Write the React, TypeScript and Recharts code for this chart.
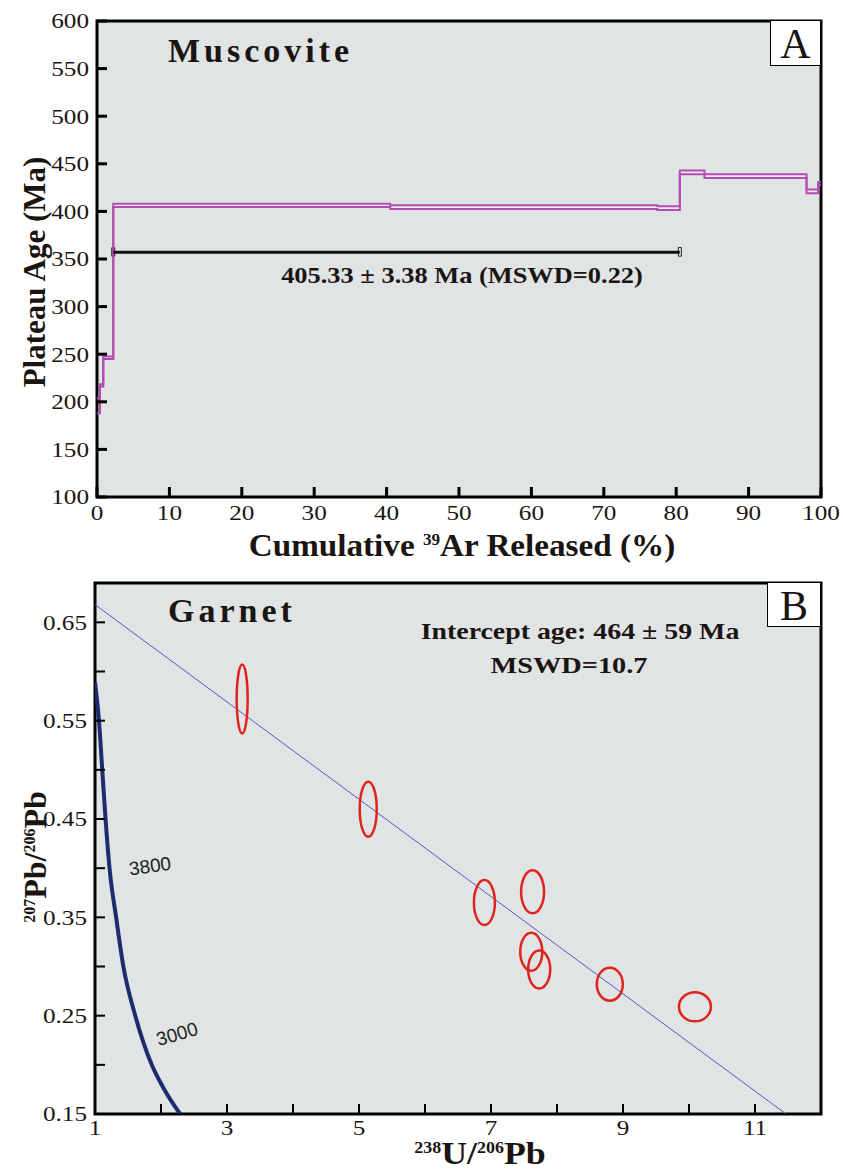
import React from "react";
import {
  ComposedChart,
  XAxis,
  YAxis,
  Line,
  Scatter,
  ReferenceArea,
  CartesianGrid,
} from "recharts";

// Panel A – muscovite Ar-Ar step spectrum
const stepStart = [0, 0.41, 0.87, 2.25, 40.5, 77.4, 80.5, 83.9, 98.0, 99.6];
const stepEnd = [0.41, 0.87, 2.25, 40.5, 77.4, 80.5, 83.9, 98.0, 99.6, 100];
const ageLow = [188, 216, 245, 404.5, 402.5, 401.5, 439, 435, 419, 427.5];
const ageHigh = [204, 218.5, 247.5, 408, 406.5, 405.5, 443, 439, 423, 431];
const plateauX = [2.25, 80.5];
const plateauY = [357, 357];
const xTicksA = [0, 10, 20, 30, 40, 50, 60, 70, 80, 90, 100];
const yTicksA = [100, 150, 200, 250, 300, 350, 400, 450, 500, 550, 600];

// Panel B – garnet Tera-Wasserburg
const ellX = [3.23, 5.14, 6.9, 7.63, 7.61, 7.73, 8.8, 10.09];
const ellY = [0.572, 0.46, 0.365, 0.376, 0.315, 0.297, 0.282, 0.259];
const ellErrX = [0.083, 0.129, 0.159, 0.174, 0.167, 0.167, 0.197, 0.242];
const ellErrY = [0.035, 0.028, 0.0229, 0.0219, 0.0193, 0.0193, 0.0168, 0.0148];
const regX = [1, 11.47];
const regY = [0.668, 0.15];
const concX = [1.0, 1.06, 1.11, 1.16, 1.22, 1.32, 1.43, 1.61, 1.86, 2.05, 2.29];
const concY = [0.589, 0.55, 0.5, 0.45, 0.4, 0.35, 0.3, 0.25, 0.2, 0.175, 0.15];
const xTicksB = [1, 2, 3, 4, 5, 6, 7, 8, 9, 10, 11];
const xLabelsB = ["1", "", "3", "", "5", "", "7", "", "9", "", "11"];
const yTicksB = [0.15, 0.2, 0.25, 0.3, 0.35, 0.4, 0.45, 0.5, 0.55, 0.6, 0.65];
const yLabelsB = ["0.15", "", "0.25", "", "0.35", "", "0.45", "", "0.55", "", "0.65"];

const SERIF = "'Liberation Serif', 'Times New Roman', serif";
const SANS = "'Liberation Sans', Arial, sans-serif";
const BG = "#e1e4e5";
const INK = "#1b1512";
const MAGENTA = "#b24cb0";

// step outline: one point per step start, plus the closing point at 100 %
const stepData = [
  ...stepStart.map((x, i) => ({ x, hi: ageHigh[i], lo: ageLow[i] })),
  { x: stepEnd[stepEnd.length - 1], hi: ageHigh[ageHigh.length - 1], lo: ageLow[ageLow.length - 1] },
];
const plateauData = plateauX.map((x, i) => ({ x, y: plateauY[i] }));
const ellData = ellX.map((x, i) => ({ x, y: ellY[i], ex: ellErrX[i], ey: ellErrY[i] }));
const regData = regX.map((x, i) => ({ x, y: regY[i] }));
const concData = concX.map((x, i) => ({ x, y: concY[i] }));

// plot-area geometry of panel B (used to turn errors into ellipse radii)
const B_W = 843, B_H = 611, B_TOP = 23, B_RIGHT = 22, B_YW = 95, B_XH = 57;
const B_XDOM = [1, 12];
const B_YDOM = [0.15, 0.69];
const PX_X = (B_W - B_YW - B_RIGHT) / (B_XDOM[1] - B_XDOM[0]);
const PX_Y = (B_H - B_TOP - B_XH) / (B_YDOM[1] - B_YDOM[0]);

const tickText: React.CSSProperties = { fontFamily: SERIF, fontSize: 21, fill: INK };

const makeYTick = (labels: (v: number, i: number) => string, w: number) => (p: any) => (
  <g>
    <line x1={p.x} x2={p.x + 10} y1={p.y} y2={p.y} stroke="#000" strokeWidth={w} />
    <text
      transform={`translate(${p.x - 8},${p.y}) scale(1.2,1)`}
      dy="0.35em"
      textAnchor="end"
      style={tickText}
    >
      {labels(p.payload.value, p.index)}
    </text>
  </g>
);

const makeXTick = (labels: (v: number, i: number) => string, w: number, dy: number) => (p: any) => (
  <g>
    <line x1={p.x} x2={p.x} y1={p.y} y2={p.y - 10} stroke="#000" strokeWidth={w} />
    <text
      transform={`translate(${p.x},${p.y + dy}) scale(1.2,1)`}
      textAnchor="middle"
      style={tickText}
    >
      {labels(p.payload.value, p.index)}
    </text>
  </g>
);

const Ellipse = (p: any) => (
  <ellipse
    cx={p.cx}
    cy={p.cy}
    rx={p.payload.ex * PX_X}
    ry={p.payload.ey * PX_Y}
    fill="none"
    stroke="#e0241c"
    strokeWidth={2.5}
  />
);

const abs = (left: number, top: number, extra: React.CSSProperties = {}): React.CSSProperties => ({
  position: "absolute",
  left,
  top,
  whiteSpace: "nowrap",
  fontFamily: SERIF,
  color: INK,
  lineHeight: 1,
  ...extra,
});

const sup: React.CSSProperties = { fontSize: 16, verticalAlign: "11px" };

const App: React.FC = () => (
  <div style={{ position: "absolute", left: 0, top: 0, width: 843, height: 1171, background: "#fff", overflow: "hidden" }}>
    <div style={{ position: "absolute", left: 0, top: 0 }}>
      <ComposedChart width={843} height={540} margin={{ top: 21, right: 22, bottom: 0, left: 0 }}>
        <CartesianGrid horizontal={false} vertical={false} fill={BG} />
        <XAxis
          type="number"
          dataKey="x"
          domain={[0, 100]}
          ticks={xTicksA}
          height={43}
          tickSize={0}
          tickMargin={0}
          axisLine={false}
          tickLine={false}
          interval={0}
          tick={makeXTick((v) => String(v), 3, 23)}
        />
        <YAxis
          type="number"
          domain={[100, 600]}
          ticks={yTicksA}
          width={97}
          tickSize={0}
          tickMargin={0}
          axisLine={false}
          tickLine={false}
          interval={0}
          allowDataOverflow
          tick={makeYTick((v) => String(v), 3)}
        />
        {stepStart.map((s, i) => (
          <ReferenceArea
            key={`step-${i}`}
            x1={s}
            x2={stepEnd[i]}
            y1={ageLow[i]}
            y2={ageHigh[i]}
            fill="#f2eef2"
            fillOpacity={1}
            stroke="none"
          />
        ))}
        <Line data={stepData} dataKey="hi" type="stepAfter" stroke={MAGENTA} strokeWidth={2} dot={false} isAnimationActive={false} />
        <Line data={stepData} dataKey="lo" type="stepAfter" stroke={MAGENTA} strokeWidth={2} dot={false} isAnimationActive={false} />
        <Line
          data={plateauData}
          dataKey="y"
          stroke="#111"
          strokeWidth={3}
          dot={false}
          isAnimationActive={false}
        />
        <ReferenceArea x1={2.05} x2={2.45} y1={353} y2={362} fill="#111" fillOpacity={1} stroke="#111" />
        <ReferenceArea x1={80.3} x2={80.7} y1={353} y2={362} fill="#fff" fillOpacity={1} stroke="#111" />
        <ReferenceArea x1={0} x2={100} y1={100} y2={600} fill="none" stroke="#000" strokeWidth={3} />
      </ComposedChart>
    </div>

    <div style={{ position: "absolute", left: 0, top: 560 }}>
      <ComposedChart width={B_W} height={B_H} margin={{ top: B_TOP, right: B_RIGHT, bottom: 0, left: 0 }}>
        <CartesianGrid horizontal={false} vertical={false} fill={BG} />
        <XAxis
          type="number"
          dataKey="x"
          domain={B_XDOM}
          ticks={xTicksB}
          height={B_XH}
          tickSize={0}
          tickMargin={0}
          axisLine={false}
          tickLine={false}
          interval={0}
          allowDataOverflow
          tick={makeXTick((_, i) => xLabelsB[i] ?? "", 2, 21)}
        />
        <YAxis
          type="number"
          dataKey="y"
          domain={B_YDOM}
          ticks={yTicksB}
          width={B_YW}
          tickSize={0}
          tickMargin={0}
          axisLine={false}
          tickLine={false}
          interval={0}
          allowDataOverflow
          tick={makeYTick((_, i) => yLabelsB[i] ?? "", 2)}
        />
        <Line
          data={regData}
          dataKey="y"
          stroke="#5454cc"
          strokeWidth={1}
          dot={false}
          isAnimationActive={false}
        />
        <Line
          data={concData}
          dataKey="y"
          type="monotone"
          stroke="#1e2c6e"
          strokeWidth={4}
          dot={false}
          isAnimationActive={false}
        />
        <Scatter data={ellData} dataKey="y" shape={Ellipse} isAnimationActive={false} />
        <ReferenceArea x1={1} x2={12} y1={0.15} y2={0.69} fill="none" stroke="#000" strokeWidth={3} />
      </ComposedChart>
    </div>

    {/* Panel A annotations */}
    <div style={abs(770, 21, { width: 49, height: 44, background: "#fff", border: "1.5px solid #000", borderTop: "none", borderRight: "none", fontSize: 42, textAlign: "center", lineHeight: "46px" })}>A</div>
    <div style={abs(168, 34, { fontSize: 34, fontWeight: "bold", letterSpacing: 4 })}>Muscovite</div>
    <div style={abs(462, 275, { fontSize: 24, fontWeight: "bold", transform: "translate(-50%, -50%) scaleX(1.1)" })}>
      405.33 ± 3.38 Ma (MSWD=0.22)
    </div>
    <div style={abs(34, 272, { fontSize: 31, fontWeight: "bold", transform: "translate(-50%, -50%) rotate(-90deg)" })}>
      Plateau Age (Ma)
    </div>
    <div style={abs(462, 545, { fontSize: 31, fontWeight: "bold", transform: "translate(-50%, -50%) scaleX(1.07)" })}>
      Cumulative <sup style={sup}>39</sup>Ar Released (%)
    </div>

    {/* Panel B annotations */}
    <div style={abs(767, 583, { width: 52, height: 43, background: "#fff", border: "1.5px solid #000", borderTop: "none", borderRight: "none", fontSize: 42, textAlign: "center", lineHeight: "46px" })}>B</div>
    <div style={abs(168, 594, { fontSize: 34, fontWeight: "bold", letterSpacing: 4 })}>Garnet</div>
    <div style={abs(580, 631, { fontSize: 24, fontWeight: "bold", transform: "translate(-50%, -50%) scaleX(1.16)" })}>
      Intercept age: 464 ± 59 Ma
    </div>
    <div style={abs(569, 665, { fontSize: 24, fontWeight: "bold", transform: "translate(-50%, -50%) scaleX(1.18)" })}>
      MSWD=10.7
    </div>
    <div style={abs(150, 866, { fontSize: 19, fontFamily: SANS, color: "#222", transform: "translate(-50%, -50%) rotate(-8deg)" })}>3800</div>
    <div style={abs(177, 1034, { fontSize: 19, fontFamily: SANS, color: "#222", transform: "translate(-50%, -50%) rotate(-16deg)" })}>3000</div>
    <div style={abs(35, 857, { fontSize: 32, fontWeight: "bold", transform: "translate(-50%, -50%) rotate(-90deg)" })}>
      <sup style={sup}>207</sup>Pb/<sup style={sup}>206</sup>Pb
    </div>
    <div style={abs(480, 1153, { fontSize: 32, fontWeight: "bold", transform: "translate(-50%, -50%) scaleX(1.12)" })}>
      <sup style={{ fontSize: 16, verticalAlign: "11px" }}>238</sup>U/<sup style={{ fontSize: 16, verticalAlign: "11px" }}>206</sup>Pb
    </div>
  </div>
);

export default App;
